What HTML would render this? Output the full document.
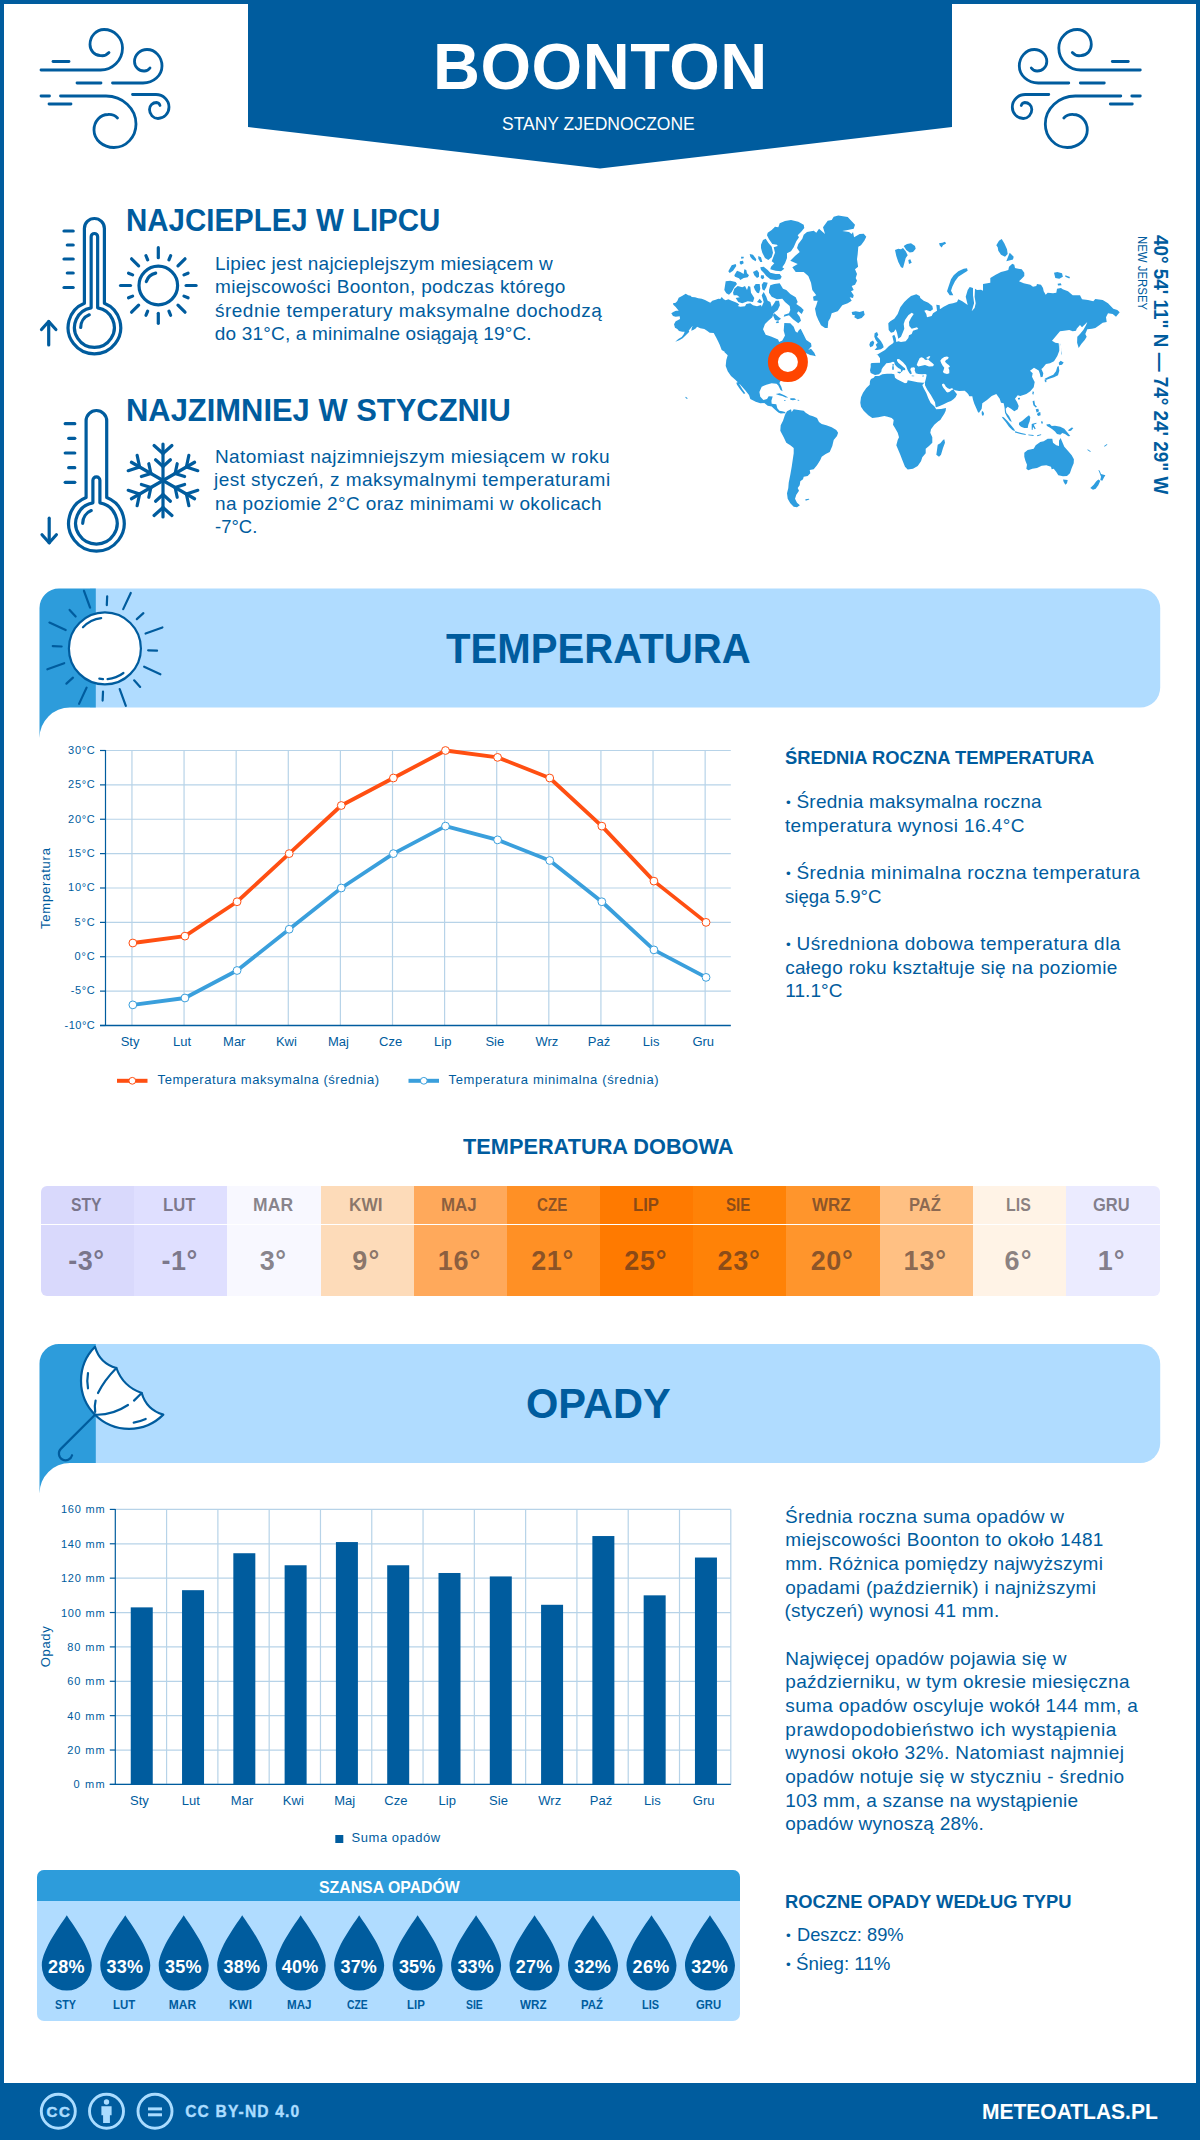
<!DOCTYPE html>
<html lang="pl"><head><meta charset="utf-8"><title>Boonton - pogoda i klimat</title>
<style>
html,body{margin:0;padding:0;background:#fff;}
body{width:1200px;height:2140px;position:relative;overflow:hidden;font-family:"Liberation Sans", sans-serif;color:#005c9e;}
.t{position:absolute;white-space:nowrap;line-height:1;margin:0;padding:0;font-family:"Liberation Sans", sans-serif;}
.abs{position:absolute;}
svg{position:absolute;left:0;top:0;overflow:visible;}
svg text{font-family:"Liberation Sans", sans-serif;}
</style></head><body>

<div class="abs" style="left:0;top:0;width:1200px;height:4px;background:#005c9e"></div>
<div class="abs" style="left:0;top:0;width:4px;height:2140px;background:#005c9e"></div>
<div class="abs" style="left:1196px;top:0;width:4px;height:2140px;background:#005c9e"></div>
<div class="abs" style="left:0;top:2083px;width:1200px;height:57px;background:#005c9e"></div>
<svg width="1200" height="200" viewBox="0 0 1200 200"><polygon points="248,0 952,0 952,127 600,168.5 248,127" fill="#005c9e"/></svg>
<div class="t" style="left:433.05px;top:33.98px;font-size:65px;font-weight:bold;letter-spacing:0.533px;color:#fff;">BOONTON</div>
<div class="t" style="left:501.81px;top:114.42px;font-size:19px;font-weight:normal;color:#fff;transform-origin:0 0;transform:scaleX(0.9206);">STANY ZJEDNOCZONE</div>
<svg width="1200" height="200" viewBox="0 0 1200 200"><g fill="none" stroke="#005c9e" stroke-width="2.8" stroke-linecap="round" stroke-linejoin="round">
<path d="M41,70 H100 A22,22 0 0 0 122.5,48 A18.5,18.5 0 0 0 104,29.5 A14,15 0 0 0 90,44.5 A10,11 0 0 0 100,55.5 A9.5,9.5 0 0 0 109,52.5"/>
<path d="M53,61.5 H69"/>
<path d="M77,83 H101"/>
<path d="M112.5,83 H143 A19,17 0 0 0 162,66 A15,16.5 0 0 0 147,49.5 A12.5,12 0 0 0 134.5,61.5 A9.5,9.5 0 0 0 144,71 A7,7 0 0 0 150,68"/>
<path d="M41,96 H49.5"/>
<path d="M60.5,96 H106 A30,28 0 0 1 136,124 A22,23.5 0 0 1 114,147.5 A20,17.5 0 0 1 94,130 A14,15.5 0 0 1 108,114.5 A11,9 0 0 1 117.5,118"/>
<path d="M49,104 H71"/>
<path d="M132.5,94.5 H156 A13,12.5 0 0 1 169,107 A11,11.5 0 0 1 158,118.5 A8.5,9 0 0 1 149.5,109.5 A7,7 0 0 1 156.5,102.5 A4,4 0 0 1 160,105.5"/>
</g><g transform="translate(1181.3,0) scale(-1,1)"><g fill="none" stroke="#005c9e" stroke-width="2.8" stroke-linecap="round" stroke-linejoin="round">
<path d="M41,70 H100 A22,22 0 0 0 122.5,48 A18.5,18.5 0 0 0 104,29.5 A14,15 0 0 0 90,44.5 A10,11 0 0 0 100,55.5 A9.5,9.5 0 0 0 109,52.5"/>
<path d="M53,61.5 H69"/>
<path d="M77,83 H101"/>
<path d="M112.5,83 H143 A19,17 0 0 0 162,66 A15,16.5 0 0 0 147,49.5 A12.5,12 0 0 0 134.5,61.5 A9.5,9.5 0 0 0 144,71 A7,7 0 0 0 150,68"/>
<path d="M41,96 H49.5"/>
<path d="M60.5,96 H106 A30,28 0 0 1 136,124 A22,23.5 0 0 1 114,147.5 A20,17.5 0 0 1 94,130 A14,15.5 0 0 1 108,114.5 A11,9 0 0 1 117.5,118"/>
<path d="M49,104 H71"/>
<path d="M132.5,94.5 H156 A13,12.5 0 0 1 169,107 A11,11.5 0 0 1 158,118.5 A8.5,9 0 0 1 149.5,109.5 A7,7 0 0 1 156.5,102.5 A4,4 0 0 1 160,105.5"/>
</g></g></svg>
<svg width="1200" height="600" viewBox="0 0 1200 600"><g fill="none" stroke="#005c9e" stroke-width="3.2" stroke-linecap="round" stroke-linejoin="round"><path d="M84.40,303.18 V228.50 A10,10 0 0 1 104.40,228.50 V303.18 A26.3,26.3 0 1 1 84.40,303.18 Z"/><path d="M91.15,307.87 V236.75 A3.25,3.25 0 0 1 97.65,236.75 V307.87 A19.9,19.9 0 1 1 91.15,307.87 Z"/><path d="M64,231 H73.2"/><path d="M67.3,245 H73.2"/><path d="M64,259 H73.2"/><path d="M67.3,273 H73.2"/><path d="M64,287.5 H73.2"/><path d="M80.70,327.50 A13.7,13.7 0 0 1 89.27,314.80"/><path d="M48.7,321.5 V345"/><path d="M41.5,329.5 L48.7,321.5 L55.900000000000006,329.5"/><path d="M86.10,497.48 V420.80 A10.3,10.3 0 0 1 106.70,420.80 V497.48 A27.8,27.8 0 1 1 86.10,497.48 Z"/><path d="M92.90,502.85 V480.30 A3.5,3.5 0 0 1 99.90,480.30 V502.85 A20.75,20.75 0 1 1 92.90,502.85 Z"/><path d="M65.2,423.7 H74.8"/><path d="M68.7,438.3 H74.8"/><path d="M65.2,453 H74.8"/><path d="M68.7,467.7 H74.8"/><path d="M65.2,482.3 H74.8"/><path d="M82.70,523.30 A13.7,13.7 0 0 1 91.27,510.60"/><path d="M49.2,518.2 V542.7"/><path d="M42.0,534.7 L49.2,542.7 L56.400000000000006,534.7"/><circle cx="158.3" cy="285.5" r="19.3"/><path d="M186.10,285.50 L196.10,285.50"/><path d="M183.98,296.14 L188.05,297.82"/><path d="M177.96,305.16 L185.03,312.23"/><path d="M168.94,311.18 L170.62,315.25"/><path d="M158.30,313.30 L158.30,323.30"/><path d="M147.66,311.18 L145.98,315.25"/><path d="M138.64,305.16 L131.57,312.23"/><path d="M132.62,296.14 L128.55,297.82"/><path d="M130.50,285.50 L120.50,285.50"/><path d="M132.62,274.86 L128.55,273.18"/><path d="M138.64,265.84 L131.57,258.77"/><path d="M147.66,259.82 L145.98,255.75"/><path d="M158.30,257.70 L158.30,247.70"/><path d="M168.94,259.82 L170.62,255.75"/><path d="M177.96,265.84 L185.03,258.77"/><path d="M183.98,274.86 L188.05,273.18"/><path d="M146.32,281.61 A12.6,12.6 0 0 1 155.68,273.18"/><path d="M163.00,480.50 L163.00,444.00"/><path d="M163.00,453.50 L154.08,445.47"/><path d="M163.00,453.50 L171.92,445.47"/><path d="M163.00,466.50 L155.57,459.81"/><path d="M163.00,466.50 L170.43,459.81"/><path d="M163.00,480.50 L131.39,462.25"/><path d="M139.62,467.00 L128.20,470.71"/><path d="M139.62,467.00 L137.12,455.26"/><path d="M150.88,473.50 L141.37,476.59"/><path d="M150.88,473.50 L148.80,463.72"/><path d="M163.00,480.50 L131.39,498.75"/><path d="M139.62,494.00 L137.12,505.74"/><path d="M139.62,494.00 L128.20,490.29"/><path d="M150.88,487.50 L148.80,497.28"/><path d="M150.88,487.50 L141.37,484.41"/><path d="M163.00,480.50 L163.00,517.00"/><path d="M163.00,507.50 L171.92,515.53"/><path d="M163.00,507.50 L154.08,515.53"/><path d="M163.00,494.50 L170.43,501.19"/><path d="M163.00,494.50 L155.57,501.19"/><path d="M163.00,480.50 L194.61,498.75"/><path d="M186.38,494.00 L197.80,490.29"/><path d="M186.38,494.00 L188.88,505.74"/><path d="M175.12,487.50 L184.63,484.41"/><path d="M175.12,487.50 L177.20,497.28"/><path d="M163.00,480.50 L194.61,462.25"/><path d="M186.38,467.00 L188.88,455.26"/><path d="M186.38,467.00 L197.80,470.71"/><path d="M175.12,473.50 L177.20,463.72"/><path d="M175.12,473.50 L184.63,476.59"/></g></svg>
<div class="t" style="left:125.63px;top:205.14px;font-size:31.5px;font-weight:bold;color:#005c9e;transform-origin:0 0;transform:scaleX(0.9352);">NAJCIEPLEJ W LIPCU</div>
<div class="t" style="left:214.90px;top:253.52px;font-size:19px;font-weight:normal;letter-spacing:0.256px;color:#005c9e;">Lipiec jest najcieplejszym miesiącem w</div>
<div class="t" style="left:214.96px;top:277.17px;font-size:19px;font-weight:normal;letter-spacing:0.348px;color:#005c9e;">miejscowości Boonton, podczas którego</div>
<div class="t" style="left:215.05px;top:300.82px;font-size:19px;font-weight:normal;letter-spacing:0.477px;color:#005c9e;">średnie temperatury maksymalne dochodzą</div>
<div class="t" style="left:214.86px;top:324.47px;font-size:19px;font-weight:normal;letter-spacing:0.171px;color:#005c9e;">do 31°C, a minimalne osiągają 19°C.</div>
<div class="t" style="left:125.53px;top:395.14px;font-size:31.5px;font-weight:bold;color:#005c9e;transform-origin:0 0;transform:scaleX(0.9815);">NAJZIMNIEJ W STYCZNIU</div>
<div class="t" style="left:214.90px;top:446.52px;font-size:19px;font-weight:normal;letter-spacing:0.443px;color:#005c9e;">Natomiast najzimniejszym miesiącem w roku</div>
<div class="t" style="left:214.04px;top:470.17px;font-size:19px;font-weight:normal;letter-spacing:0.441px;color:#005c9e;">jest styczeń, z maksymalnymi temperaturami</div>
<div class="t" style="left:214.96px;top:493.82px;font-size:19px;font-weight:normal;letter-spacing:0.367px;color:#005c9e;">na poziomie 2°C oraz minimami w okolicach</div>
<div class="t" style="left:214.55px;top:517.47px;font-size:19px;font-weight:normal;color:#005c9e;transform-origin:0 0;transform:scaleX(0.9717);">-7°C.</div>
<svg width="1200" height="600" viewBox="0 0 1200 600"><path d="M685.7,293.7L688.3,295.3L690.7,295.7L691.7,297.0L695.0,297.3L698.3,298.3L701.7,298.7L705.0,300.0L708.3,301.7L710.3,302.7L712.3,300.7L715.7,299.7L718.3,298.7L720.3,299.0L721.7,297.0L723.7,299.3L725.7,300.3L728.3,299.3L731.7,300.7L735.0,302.0L737.7,303.3L739.3,304.7L737.7,306.0L740.3,306.7L745.0,306.3L746.3,304.0L750.3,303.3L753.0,305.3L757.0,306.3L761.0,304.9L761.7,306.7L763.7,302.0L761.7,295.3L763.7,292.0L766.3,296.7L767.7,300.7L770.3,302.0L771.7,306.7L773.7,304.0L775.7,300.7L779.0,300.7L779.9,305.3L777.7,310.0L773.7,312.9L772.3,317.3L768.3,320.7L765.0,324.0L763.0,329.3L765.7,334.7L771.0,336.4L778.1,339.6L779.1,342.0L782.3,340.4L785.0,335.6L783.7,330.7L784.3,323.1L790.3,323.3L793.7,326.7L795.4,331.3L797.3,332.7L799.0,330.0L800.7,328.7L803.7,334.7L806.3,340.0L811.0,343.3L811.7,347.3L811.7,346.0L808.3,350.0L811.0,348.7L814.3,352.7L815.7,356.0L813.0,355.3L809.7,354.7L806.3,353.3L803.7,357.3L799.7,362.7L796.3,368.7L790.3,374.7L785.0,378.7L780.3,381.3L779.4,382.9L781.3,386.7L782.6,391.3L780.5,390.1L778.3,385.6L776.5,383.7L771.7,383.3L766.3,384.7L761.7,386.7L759.4,392.0L760.3,396.7L763.4,400.0L767.0,398.9L768.7,396.3L772.7,396.5L771.4,400.7L771.7,403.7L776.3,404.3L777.3,408.3L779.4,410.7L782.3,411.3L785.0,412.0L785.7,413.3L783.7,413.3L780.7,413.6L778.3,412.4L774.3,409.1L771.7,406.4L767.7,405.7L764.3,403.1L760.3,403.3L755.7,401.7L750.3,399.1L749.0,394.9L745.0,390.1L739.7,384.1L735.0,379.5L731.0,376.0L727.7,371.3L725.7,366.0L726.3,360.0L727.7,355.3L724.3,352.0L721.0,347.3L717.7,340.0L725.0,352.0L721.7,350.0L719.7,344.7L718.3,341.7L716.3,337.7L713.7,333.0L709.7,332.7L707.0,330.7L704.3,329.0L700.3,328.3L697.0,326.7L696.0,328.3L693.7,329.7L691.3,330.7L691.7,328.3L692.7,325.7L691.0,327.7L688.7,330.7L689.3,331.7L686.3,334.7L682.7,338.3L679.3,340.3L675.3,341.7L678.3,339.0L681.7,337.0L683.7,334.3L684.7,331.7L682.3,331.7L679.0,331.0L677.3,329.0L675.0,327.7L674.0,324.3L675.7,321.3L677.7,320.3L680.0,319.0L679.7,316.3L675.7,316.7L673.0,316.0L671.3,313.3L673.7,311.7L676.0,310.7L678.7,310.7L675.7,307.0L673.3,304.7L673.0,303.3L675.7,302.7L677.3,301.0L678.7,297.7L682.0,296.0ZM736.3,382.7L738.1,382.1L742.1,388.7L745.3,393.3L743.9,393.9L739.9,388.9L737.0,384.7ZM767.7,232.7L771.7,230.0L775.0,226.7L778.3,227.3L779.7,223.3L785.0,220.9L791.0,220.0L798.3,221.7L803.7,224.7L804.3,228.0L801.0,232.0L797.7,235.3L799.0,237.3L796.3,241.3L793.7,247.3L791.0,251.3L787.0,253.3L787.0,258.0L785.0,263.3L782.3,267.3L784.3,268.7L781.0,271.3L775.7,270.7L770.3,269.3L771.0,266.7L774.3,263.3L771.7,261.3L773.7,256.0L775.0,252.7L773.7,247.3L777.7,246.0L777.0,244.7L772.3,244.0L769.0,239.3L767.0,235.3ZM761.0,244.7L763.0,240.0L765.7,238.7L768.3,242.7L771.7,246.7L773.0,252.7L771.7,257.3L768.3,260.0L765.0,258.0L762.3,252.7L761.0,248.0ZM760.3,267.3L763.7,266.7L767.7,270.0L770.3,272.7L775.7,274.0L779.7,274.0L781.7,276.7L780.3,279.3L775.7,280.0L770.3,279.3L766.3,276.0L763.7,272.7L761.0,270.0ZM753.0,272.0L757.0,270.0L759.0,272.7L759.0,276.7L757.0,278.0L754.3,275.3ZM761.0,275.3L763.7,275.3L764.3,278.0L762.3,279.3L760.7,277.7ZM749.7,254.0L753.0,254.7L756.3,259.3L755.7,261.3L752.3,259.3L750.3,256.7ZM758.3,256.0L761.0,257.3L762.3,262.0L760.3,262.0L758.3,258.7ZM741.0,256.7L743.7,256.7L743.7,258.3L741.3,258.7ZM739.9,261.3L743.0,260.7L743.7,263.3L741.0,264.7L739.7,263.3ZM728.3,271.3L731.7,265.3L735.7,264.0L736.3,266.0L733.0,270.7L729.7,272.9ZM734.3,275.3L737.0,270.7L740.3,272.0L743.7,274.0L744.3,269.3L746.3,270.0L747.0,273.3L749.0,275.3L747.7,277.3L743.7,278.0L740.3,280.0L739.0,278.3L735.0,276.7ZM724.3,290.0L725.7,281.3L730.3,280.7L735.7,282.0L737.0,284.0L734.3,287.3L731.7,292.0L729.0,294.7L726.3,293.3ZM733.0,292.7L734.3,288.7L737.7,286.0L742.3,287.3L745.0,286.0L747.0,290.0L748.3,286.0L750.3,286.7L751.0,292.7L754.3,298.0L753.0,302.0L747.7,301.3L742.3,303.3L738.3,302.0L735.7,298.0L739.7,297.3L737.0,295.3L733.7,295.3ZM753.7,286.7L755.7,284.0L759.7,284.0L760.3,288.7L759.0,293.3L757.0,292.7L755.0,290.0ZM761.7,284.7L763.7,282.0L767.7,282.7L766.3,287.3L764.3,290.7L762.3,289.3ZM757.0,302.0L759.7,298.7L762.3,302.0L760.3,303.3ZM773.0,315.3L774.3,313.3L778.3,316.7L781.0,318.7L778.3,320.7L775.0,320.0ZM775.7,322.0L778.3,320.9L779.0,322.7L776.7,323.3ZM769.0,290.0L770.3,285.3L774.3,284.0L779.7,283.3L783.0,288.7L786.3,290.0L790.3,294.0L795.7,297.3L797.7,302.0L796.3,304.0L801.0,307.3L803.7,310.0L801.7,314.0L798.3,311.3L797.0,313.3L799.7,316.7L801.0,320.7L798.3,323.3L793.0,319.3L789.0,315.3L783.7,316.7L784.3,314.7L789.0,313.3L790.3,310.0L789.7,306.0L785.0,302.0L782.3,298.7L777.0,299.3L771.7,296.7L769.0,292.7ZM808.3,353.3L811.0,349.1L814.3,352.7L815.7,356.3L813.0,355.5L809.7,354.9ZM803.7,234.7L807.0,232.0L813.7,230.7L816.3,232.7L819.0,228.7L825.0,234.0L823.0,227.3L827.7,220.7L831.7,220.0L833.7,216.7L838.3,215.6L847.7,216.9L855.0,224.7L853.7,228.7L847.7,230.0L842.3,231.1L849.0,232.0L851.7,234.0L853.0,232.0L854.1,237.3L859.7,234.0L863.7,233.7L866.3,236.7L864.3,240.7L861.0,245.3L858.3,246.7L857.7,254.0L857.0,259.3L858.1,266.7L855.0,269.3L857.0,274.0L855.7,278.0L857.0,280.7L855.0,284.7L851.7,286.0L853.7,290.0L851.0,291.3L853.7,295.3L853.0,298.0L849.7,297.3L851.7,300.7L847.7,303.3L842.3,305.3L839.7,308.7L837.7,311.3L831.7,313.3L830.3,318.0L828.3,321.3L827.7,328.0L825.0,328.0L821.0,325.3L818.3,320.0L816.3,315.3L815.0,308.7L816.3,305.3L817.7,300.7L813.7,300.7L813.0,296.7L816.3,295.3L812.3,290.0L811.0,282.7L808.3,276.0L803.7,272.0L795.7,272.0L792.3,267.3L797.7,264.0L790.3,260.7L795.0,256.0L799.7,252.0L797.0,248.0L798.3,244.0L802.3,238.7ZM851.7,312.0L855.7,311.3L859.7,312.0L863.7,310.7L864.7,314.7L861.7,318.0L857.7,319.3L854.3,317.3L855.0,315.3L852.3,314.7ZM895.0,250.0L898.3,248.7L901.0,249.3L903.0,248.0L905.7,251.3L907.7,255.3L905.7,258.0L904.3,263.3L903.0,268.0L901.0,267.3L898.3,262.0L896.3,256.0ZM903.7,246.0L907.0,244.0L911.0,243.3L915.0,246.0L915.7,248.7L913.0,252.0L909.7,252.4L906.3,250.0ZM908.3,260.0L910.3,259.3L911.7,262.7L909.0,264.0ZM874.6,333.3L877.0,332.0L878.3,334.7L877.0,336.7L879.0,338.7L881.0,341.3L883.0,344.7L883.7,347.3L881.0,349.3L877.0,350.0L874.6,350.0L877.0,347.3L875.7,344.7L877.7,342.7L875.7,340.0L874.3,336.7ZM870.3,342.0L873.0,340.4L874.3,342.7L873.0,346.0L870.3,347.3L869.3,344.7ZM947.0,291.3L948.3,287.3L951.0,279.3L953.7,275.3L958.3,271.3L963.7,268.7L967.0,268.3L967.7,270.7L963.7,273.3L958.3,276.7L955.0,281.3L952.3,286.7L951.0,290.7L953.3,295.3L949.7,295.3ZM996.3,245.3L999.0,240.7L1001.7,239.1L1004.3,243.3L1007.0,249.3L1007.7,254.0L1005.0,256.7L1001.0,254.7L998.3,250.7L997.7,247.3ZM1006.3,261.3L1009.7,252.7L1013.7,256.7L1013.0,259.6ZM939.0,243.3L942.3,242.7L945.0,241.7L946.1,243.6L943.0,245.3L941.7,247.6L939.9,245.7ZM1054.0,272.7L1057.3,272.0L1062.0,273.3L1062.9,276.7L1059.3,278.7L1055.3,278.0ZM1065.3,275.3L1070.0,277.1L1069.3,278.4L1065.3,276.7ZM1057.6,283.7L1060.7,283.3L1061.6,285.3L1058.0,285.6ZM907.7,298.7L911.0,296.0L916.3,294.3L919.7,296.0L920.3,298.0L923.7,300.7L928.3,302.7L932.3,306.0L933.0,309.3L930.3,311.3L926.3,310.0L924.3,310.7L926.3,314.0L927.0,317.3L931.7,316.0L933.0,313.3L937.0,310.7L936.3,304.7L939.7,305.3L939.9,309.3L943.7,306.7L949.0,304.0L953.0,303.3L957.0,302.0L958.3,299.3L962.3,301.3L967.7,304.9L965.7,296.7L967.7,290.0L969.7,287.1L973.0,288.0L973.0,295.3L974.1,303.3L971.7,311.3L974.6,308.0L975.7,303.3L974.6,296.7L975.0,288.7L977.0,290.0L981.0,289.7L983.0,290.7L983.0,284.0L990.3,282.7L990.3,278.0L995.7,274.7L1001.0,272.0L1005.0,271.1L1008.3,270.0L1009.0,266.7L1012.3,263.7L1014.3,264.7L1015.0,268.0L1018.3,268.7L1021.7,269.3L1024.3,272.7L1024.3,276.0L1021.7,278.7L1019.0,281.3L1023.7,283.3L1030.3,284.7L1033.0,286.7L1036.3,286.0L1037.0,284.0L1041.0,284.7L1043.0,288.0L1043.7,291.3L1045.7,294.7L1047.7,292.7L1053.0,293.3L1056.3,292.7L1057.0,288.7L1061.0,288.0L1062.7,289.3L1068.0,291.3L1072.7,295.3L1080.0,295.3L1082.0,299.3L1088.0,300.0L1093.3,301.3L1095.3,298.9L1102.7,300.0L1108.0,303.3L1113.3,308.7L1117.3,310.0L1119.7,312.3L1116.0,316.7L1112.7,314.0L1108.0,313.3L1106.0,317.3L1106.7,322.0L1102.7,322.7L1099.3,325.3L1095.3,328.0L1092.0,328.7L1087.3,329.3L1085.3,334.0L1086.7,336.7L1084.7,340.0L1081.3,344.0L1078.7,348.0L1077.1,342.7L1077.3,336.7L1080.0,334.0L1083.3,330.0L1086.0,325.3L1087.3,322.0L1085.3,324.0L1082.0,327.3L1080.0,325.1L1076.7,328.7L1076.0,330.7L1072.7,331.3L1069.3,330.0L1064.0,330.7L1060.0,331.3L1056.0,336.0L1052.0,340.7L1055.3,342.7L1058.7,343.3L1059.3,350.7L1057.3,356.0L1054.0,361.3L1050.0,363.3L1046.0,364.0L1042.7,368.0L1040.0,370.0L1041.3,368.7L1043.3,373.3L1042.7,376.7L1040.7,377.3L1039.7,373.3L1038.7,370.4L1034.0,367.7L1030.0,370.7L1032.7,373.3L1032.0,376.7L1034.0,380.7L1034.7,382.0L1033.7,387.3L1030.3,391.3L1026.3,394.0L1020.3,396.0L1017.7,395.3L1015.0,398.7L1017.0,402.0L1018.7,406.0L1017.7,409.3L1014.3,411.3L1011.0,408.7L1007.7,406.7L1005.7,408.7L1006.3,412.7L1009.0,416.0L1011.0,420.0L1011.7,422.0L1009.7,420.7L1007.0,416.7L1005.0,412.7L1004.6,408.0L1003.7,403.3L1001.0,402.7L999.7,398.7L996.3,394.0L991.7,396.0L987.0,400.0L982.3,403.3L981.7,408.7L979.0,412.7L978.0,412.3L976.3,408.3L974.3,403.7L973.0,399.7L972.3,396.3L969.3,396.3L968.3,394.3L967.0,392.7L964.7,390.7L959.0,391.0L955.0,390.3L953.3,389.3L955.0,391.7L957.0,394.3L955.7,397.0L953.7,399.0L951.0,401.0L947.7,402.3L943.7,404.3L939.7,406.0L936.3,407.3L935.7,407.0L935.0,402.3L932.7,398.3L930.7,394.7L927.3,389.7L925.0,385.3L925.0,382.0L926.0,378.3L926.7,374.7L925.3,374.0L922.3,374.3L918.3,374.0L915.7,373.3L915.3,371.7L914.7,370.7L915.0,368.0L913.7,367.3L911.0,367.7L910.3,369.7L911.3,371.7L911.7,373.7L910.7,374.3L909.3,373.0L907.7,370.3L906.0,365.7L903.0,362.3L899.0,359.0L897.0,359.3L897.0,360.7L898.3,362.7L901.0,365.0L903.3,367.0L905.0,368.3L905.3,370.0L904.0,370.3L903.0,370.0L902.3,371.3L901.5,372.3L901.0,371.3L900.7,369.3L898.3,368.0L896.3,366.3L894.7,364.3L894.3,362.3L893.0,361.7L890.3,362.7L886.3,363.3L885.0,365.0L883.0,367.3L881.7,369.3L881.3,371.7L879.0,374.3L875.0,375.0L872.3,373.8L870.7,373.0L870.0,370.3L870.7,367.0L870.7,363.7L871.7,362.9L880.0,362.7L880.0,358.3L878.3,355.7L876.3,353.7L877.0,354.7L880.3,352.7L885.0,350.0L889.0,346.0L893.0,343.3L893.0,343.3L893.7,342.0L892.3,336.0L894.3,334.7L895.7,338.0L896.3,342.0L898.3,341.3L901.0,342.0L905.7,341.3L908.3,338.0L909.0,335.3L911.7,334.0L913.0,330.7L918.3,329.1L917.0,327.3L911.7,328.7L909.3,326.0L909.0,322.0L911.0,318.0L913.7,314.0L911.7,312.7L908.3,315.3L905.0,320.0L903.7,324.0L904.3,328.7L903.0,332.0L901.0,336.7L898.3,338.7L897.0,332.7L895.7,329.3L893.7,332.0L891.0,332.7L888.7,330.0L888.3,323.3L890.3,321.3L894.3,318.7L897.7,314.0L900.3,307.3L904.3,302.0L907.7,298.7ZM897.3,371.8L900.7,371.7L901.1,372.5L899.7,373.5L897.7,372.7ZM892.2,366.2L893.8,366.2L893.8,369.8L892.2,369.8ZM892.5,364.0L893.7,364.0L893.7,365.8L892.5,365.8ZM911.7,375.5L914.3,375.7L914.2,376.3L911.7,376.2ZM922.2,375.8L924.0,375.5L923.7,376.6L922.3,376.6ZM981.7,411.7L982.7,411.0L984.0,413.3L983.7,415.3L982.3,415.7L981.7,414.0ZM1059.3,343.3L1060.7,344.0L1061.3,350.7L1062.0,353.3L1060.7,356.0L1060.0,350.7ZM1058.7,362.7L1060.7,360.7L1063.7,362.4L1062.0,364.7L1059.3,365.3ZM1058.7,366.0L1059.3,370.7L1058.0,375.3L1054.0,377.3L1049.3,378.7L1046.0,380.0L1044.7,378.7L1048.7,376.7L1053.3,374.7L1056.0,371.3L1057.3,366.7ZM1044.7,379.3L1046.7,380.7L1046.0,382.4L1044.7,381.3ZM1032.7,391.3L1034.0,392.0L1033.3,394.7L1032.3,394.0ZM1001.7,416.7L1003.7,417.3L1007.7,421.3L1011.7,426.0L1014.3,429.3L1015.0,431.3L1012.3,430.0L1009.0,426.7L1005.7,422.0L1003.0,418.7ZM1015.0,431.3L1020.3,432.7L1025.7,434.0L1025.7,434.9L1020.3,434.0L1015.0,432.4ZM1028.3,434.4L1033.7,435.1L1033.4,436.0L1028.3,435.3ZM1037.0,435.3L1041.0,434.3L1041.3,435.1L1037.4,436.3ZM1019.0,422.7L1022.3,420.7L1026.3,417.3L1029.0,415.3L1030.3,417.3L1029.7,421.3L1028.3,424.7L1027.7,428.0L1024.3,428.0L1021.0,426.7L1019.0,424.7ZM1031.7,424.0L1036.3,422.7L1036.6,423.6L1033.7,424.7L1035.7,428.7L1034.7,429.3L1033.0,426.7L1032.6,430.0L1031.7,429.7ZM1032.6,401.3L1034.3,400.4L1035.0,404.7L1037.0,406.7L1035.7,407.6L1033.4,405.3ZM1035.7,409.3L1038.3,408.7L1039.0,411.3L1036.6,412.4ZM1037.7,412.7L1040.3,412.0L1040.6,415.3L1038.3,416.0L1037.0,414.7ZM1017.9,398.0L1020.1,397.7L1019.7,399.6L1018.1,399.6ZM1041.0,421.3L1043.0,421.7L1042.3,424.0L1041.3,423.3ZM1046.3,424.4L1049.7,424.0L1051.7,426.0L1055.0,425.7L1060.3,426.7L1064.3,428.7L1067.0,432.0L1070.3,436.0L1068.3,436.3L1065.0,434.0L1062.3,432.9L1060.3,434.7L1057.0,434.0L1055.0,431.6L1052.3,429.3L1049.7,427.6L1047.0,426.0ZM1068.3,430.0L1071.7,427.6L1073.4,428.0L1071.0,430.7L1068.6,431.1ZM1087.7,449.3L1090.7,451.3L1090.3,452.0L1087.4,450.0ZM1104.1,446.0L1107.0,444.0L1107.3,444.7L1104.6,446.8ZM1024.3,452.7L1027.7,450.0L1033.7,448.7L1035.7,445.3L1040.3,442.0L1043.7,441.3L1047.7,438.7L1052.3,438.7L1053.0,442.7L1056.3,445.3L1059.0,446.0L1059.0,440.7L1060.6,438.0L1062.3,442.0L1064.3,446.7L1068.3,451.3L1071.7,455.3L1073.9,459.3L1073.7,463.3L1071.7,468.0L1069.9,473.3L1067.0,476.0L1063.0,476.3L1058.3,475.3L1056.3,472.0L1053.7,468.7L1051.7,469.3L1051.0,466.7L1046.3,465.3L1041.7,465.7L1037.0,468.0L1032.3,468.7L1028.3,470.3L1026.3,468.7L1027.0,464.7L1025.4,460.7L1024.3,456.7ZM1063.0,479.6L1067.7,480.0L1067.0,483.3L1065.4,484.7L1063.7,482.0ZM1098.3,469.7L1099.7,470.7L1101.0,474.0L1105.4,475.3L1104.1,477.3L1102.3,480.7L1100.3,480.0L1101.0,476.7L1099.7,473.3ZM1098.3,479.6L1100.3,480.7L1098.3,485.3L1095.7,488.7L1093.0,489.7L1090.3,488.0L1093.7,484.7L1096.3,481.3ZM870.0,381.0L871.0,379.0L873.7,377.7L875.0,376.0L879.0,376.0L882.3,374.3L887.0,373.7L891.7,373.7L894.3,374.3L895.0,377.7L897.0,379.3L901.0,381.3L905.0,383.3L907.0,382.7L907.7,380.3L911.7,381.0L917.7,382.3L923.0,382.7L924.7,382.5L922.3,385.0L923.7,388.3L926.3,393.0L928.3,398.3L930.7,403.0L934.3,406.3L936.2,409.3L941.0,409.0L946.0,408.0L945.7,410.7L944.3,413.7L941.7,417.7L940.3,420.0L938.3,421.3L934.3,424.7L931.0,429.3L930.3,432.7L932.3,437.3L932.3,442.7L929.0,446.0L925.7,448.7L925.7,453.3L922.3,457.3L921.0,461.3L917.7,466.0L913.0,468.7L907.7,469.6L905.0,466.7L902.3,460.0L900.3,454.7L898.3,450.0L896.3,445.3L897.7,440.0L899.0,437.3L897.7,432.7L895.0,428.0L893.0,424.7L893.7,420.0L891.7,418.0L887.7,416.7L884.3,416.0L878.3,417.3L872.3,418.0L868.3,415.3L863.7,410.7L861.0,406.7L860.3,402.7L861.0,397.3L863.0,392.7L866.3,388.0L869.7,384.7ZM944.3,439.3L945.0,442.7L943.0,448.0L941.0,454.7L939.0,456.7L936.3,454.7L937.0,450.0L937.7,444.7L940.3,443.3L943.0,440.0ZM785.0,414.7L787.0,411.3L791.0,409.3L791.7,412.0L793.7,409.3L798.3,410.0L803.7,410.7L805.7,412.7L809.7,415.3L813.0,416.3L817.0,418.0L819.0,422.0L821.7,424.0L826.3,425.3L831.7,427.3L836.3,430.0L838.1,432.7L837.0,436.0L833.7,440.0L832.3,446.0L829.7,452.0L825.7,454.0L821.7,456.7L820.3,460.0L817.0,465.3L813.7,469.3L809.7,470.0L810.3,473.3L807.7,476.0L803.7,476.7L803.0,479.3L800.3,481.3L799.7,485.3L797.7,488.0L799.0,490.7L796.3,494.7L795.0,498.7L797.0,502.7L799.9,505.3L797.0,507.3L793.7,506.7L790.3,503.3L787.7,498.7L787.0,493.3L788.3,488.0L788.7,482.7L790.3,474.7L791.7,466.7L792.7,460.0L793.7,453.3L793.7,448.0L790.3,445.3L786.3,442.7L783.7,437.3L780.3,430.7L780.7,425.3L783.0,420.7ZM805.3,499.3L809.0,498.7L809.3,499.6L805.7,500.7ZM775.7,394.0L779.7,393.3L784.3,395.3L788.3,397.6L785.7,397.6L782.3,396.0L778.3,394.9ZM790.3,398.3L794.3,398.3L796.3,399.6L793.0,400.3L790.3,399.7ZM797.7,399.7L799.4,400.0L799.0,400.8L797.5,400.5ZM784.1,400.0L785.7,400.0L785.4,400.8L783.9,400.7ZM685.0,396.7L687.0,397.6L687.7,398.9L686.1,398.4Z" fill="#2e9ddf"/><path d="M916.7,365.0L917.7,362.3L919.7,358.0L921.7,357.3L923.7,358.3L925.0,359.7L927.0,360.0L928.0,359.1L926.0,358.0L928.3,356.5L930.3,356.0L929.5,358.0L928.0,359.3L929.7,361.0L932.3,363.0L934.0,364.7L933.0,366.3L929.0,366.5L925.0,365.0L921.7,365.7L918.3,366.5ZM940.3,360.7L941.7,358.7L944.3,357.0L947.0,356.5L948.7,357.3L948.0,359.0L946.0,360.0L945.0,361.7L947.0,363.7L949.0,365.3L950.0,366.7L948.3,367.7L949.3,370.0L949.3,373.3L947.0,374.0L944.3,373.3L942.9,372.0L943.7,369.7L944.3,367.7L942.7,365.7L941.3,363.3ZM942.0,384.3L943.3,383.5L944.7,384.5L945.7,386.5L947.7,388.2L949.7,388.9L951.5,388.2L952.5,388.3L953.1,389.5L951.5,390.3L949.7,391.7L947.7,392.5L946.3,391.7L945.0,389.8L943.3,387.7L942.2,385.8ZM1059.0,342.7L1060.3,342.0L1061.7,350.0L1061.3,356.7L1059.9,356.0L1059.9,349.3Z" fill="#fff"/><circle cx="787.9" cy="362" r="15" fill="#fff" stroke="#ff4500" stroke-width="10"/></svg>
<div class="t" style="left:1171.33px;top:234.81px;transform-origin:0 0;transform:rotate(90deg) scaleX(0.9446);font-size:20px;font-weight:bold;color:#005c9e">40° 54' 11&quot; N — 74° 24' 29&quot; W</div>
<div class="t" style="left:1148.60px;top:235.86px;transform-origin:0 0;transform:rotate(90deg) scaleX(0.8778);font-size:13px;font-weight:normal;color:#005c9e">NEW JERSEY</div>
<svg width="1200" height="747" viewBox="0 0 1200 747"><path d="M90,588.5 H1140.2 A20,20 0 0 1 1160.2,608.5 V687.5 A20,20 0 0 1 1140.2,707.5 H90 Z" fill="#b0dcff"/><path d="M39.5,738.0 V608.0 A19.5,19.5 0 0 1 59,588.5 H95.8 V707.5 H70 A30.5,30.5 0 0 0 39.5,738.0 Z" fill="#2d9cdb"/><g fill="none" stroke="#005c9e" stroke-width="2.2" stroke-linecap="round"><path d="M90.09,607.71 L83.97,590.89"/><path d="M106.79,605.14 L107.18,596.25"/><path d="M123.20,609.16 L130.76,592.93"/><path d="M136.82,619.15 L143.39,613.13"/><path d="M145.59,633.59 L162.41,627.47"/><path d="M148.16,650.29 L157.05,650.68"/><path d="M144.14,666.70 L160.37,674.26"/><path d="M134.15,680.32 L140.17,686.89"/><path d="M119.71,689.09 L125.83,705.91"/><path d="M103.01,691.66 L102.62,700.55"/><path d="M86.60,687.64 L79.04,703.87"/><path d="M72.98,677.65 L66.41,683.67"/><path d="M64.21,663.21 L47.39,669.33"/><path d="M61.64,646.51 L52.75,646.12"/><path d="M65.66,630.10 L49.43,622.54"/><path d="M75.65,616.48 L69.63,609.91"/><circle cx="104.9" cy="648.4" r="36" fill="#fff"/><path d="M82.96,627.21 A30.5,30.5 0 0 1 101.18,618.13"/><path d="M123.44,673.00 A30.8,30.8 0 0 1 107.58,679.08"/><path d="M103.02,679.14 A30.8,30.8 0 0 1 99.29,678.68"/></g></svg>
<div class="t" style="left:446.25px;top:627.85px;font-size:42px;font-weight:bold;color:#005c9e;transform-origin:0 0;transform:scaleX(0.9559);">TEMPERATURA</div>
<svg width="1200" height="1503" viewBox="0 0 1200 1503"><path d="M90,1344 H1140.2 A20,20 0 0 1 1160.2,1364 V1443 A20,20 0 0 1 1140.2,1463 H90 Z" fill="#b0dcff"/><path d="M39.5,1493.5 V1363.5 A19.5,19.5 0 0 1 59,1344 H95.8 V1463 H70 A30.5,30.5 0 0 0 39.5,1493.5 Z" fill="#2d9cdb"/><g fill="none" stroke="#005c9e" stroke-width="2.2" stroke-linecap="round" stroke-linejoin="round"><path d="M95,1346.7 Q99.7,1363.3 116.4,1368 Q123,1386.5 141.7,1393 Q146.5,1409.8 163.3,1414.6 A48.3,48.3 0 0 1 95,1414.7 A48.3,48.3 0 0 1 95,1346.7 Z" fill="#fff"/><path d="M95,1414.7 L60.8,1448.9 A6.7,6.7 0 1 0 72.1,1455.2"/><path d="M95.2,1412 Q94.2,1406 95.6,1400.5"/><path d="M98,1393 Q104.5,1380 116.4,1368"/><path d="M95,1414.7 Q112,1415.5 128,1405"/><path d="M134,1400.6 L141.7,1393"/><path d="M88,1373 Q86.6,1381 88,1388.3"/><path d="M133.7,1422.6 Q140,1421.6 145.7,1419"/></g></svg>
<div class="t" style="left:526.49px;top:1383.35px;font-size:42px;font-weight:bold;color:#005c9e;transform-origin:0 0;transform:scaleX(0.9900);">OPADY</div>
<svg width="1200" height="1120" viewBox="0 0 1200 1120"><path d="M105.5,750.50 H730.8" stroke="#b7d3e8" stroke-width="1.2"/><path d="M105.5,784.88 H730.8" stroke="#b7d3e8" stroke-width="1.2"/><path d="M105.5,819.25 H730.8" stroke="#b7d3e8" stroke-width="1.2"/><path d="M105.5,853.62 H730.8" stroke="#b7d3e8" stroke-width="1.2"/><path d="M105.5,888.00 H730.8" stroke="#b7d3e8" stroke-width="1.2"/><path d="M105.5,922.38 H730.8" stroke="#b7d3e8" stroke-width="1.2"/><path d="M105.5,956.75 H730.8" stroke="#b7d3e8" stroke-width="1.2"/><path d="M105.5,991.12 H730.8" stroke="#b7d3e8" stroke-width="1.2"/><path d="M105.5,1025.50 H730.8" stroke="#b7d3e8" stroke-width="1.2"/><path d="M131.95,750.5 V1025.5" stroke="#b7d3e8" stroke-width="1.2"/><path d="M184.06,750.5 V1025.5" stroke="#b7d3e8" stroke-width="1.2"/><path d="M236.17,750.5 V1025.5" stroke="#b7d3e8" stroke-width="1.2"/><path d="M288.28,750.5 V1025.5" stroke="#b7d3e8" stroke-width="1.2"/><path d="M340.39,750.5 V1025.5" stroke="#b7d3e8" stroke-width="1.2"/><path d="M392.50,750.5 V1025.5" stroke="#b7d3e8" stroke-width="1.2"/><path d="M444.60,750.5 V1025.5" stroke="#b7d3e8" stroke-width="1.2"/><path d="M496.71,750.5 V1025.5" stroke="#b7d3e8" stroke-width="1.2"/><path d="M548.82,750.5 V1025.5" stroke="#b7d3e8" stroke-width="1.2"/><path d="M600.93,750.5 V1025.5" stroke="#b7d3e8" stroke-width="1.2"/><path d="M653.04,750.5 V1025.5" stroke="#b7d3e8" stroke-width="1.2"/><path d="M705.15,750.5 V1025.5" stroke="#b7d3e8" stroke-width="1.2"/><path d="M100.0,750.50 H105.5" stroke="#005c9e" stroke-width="1.2"/><text x="94.80" y="753.80" font-size="11" text-anchor="end" fill="#005c9e" font-weight="normal" textLength="26.7" lengthAdjust="spacing">30°C</text><path d="M100.0,784.88 H105.5" stroke="#005c9e" stroke-width="1.2"/><text x="94.80" y="788.17" font-size="11" text-anchor="end" fill="#005c9e" font-weight="normal" textLength="26.7" lengthAdjust="spacing">25°C</text><path d="M100.0,819.25 H105.5" stroke="#005c9e" stroke-width="1.2"/><text x="94.80" y="822.55" font-size="11" text-anchor="end" fill="#005c9e" font-weight="normal" textLength="26.7" lengthAdjust="spacing">20°C</text><path d="M100.0,853.62 H105.5" stroke="#005c9e" stroke-width="1.2"/><text x="94.80" y="856.92" font-size="11" text-anchor="end" fill="#005c9e" font-weight="normal" textLength="26.7" lengthAdjust="spacing">15°C</text><path d="M100.0,888.00 H105.5" stroke="#005c9e" stroke-width="1.2"/><text x="94.80" y="891.30" font-size="11" text-anchor="end" fill="#005c9e" font-weight="normal" textLength="26.7" lengthAdjust="spacing">10°C</text><path d="M100.0,922.38 H105.5" stroke="#005c9e" stroke-width="1.2"/><text x="94.80" y="925.67" font-size="11" text-anchor="end" fill="#005c9e" font-weight="normal" textLength="20.4" lengthAdjust="spacing">5°C</text><path d="M100.0,956.75 H105.5" stroke="#005c9e" stroke-width="1.2"/><text x="94.80" y="960.05" font-size="11" text-anchor="end" fill="#005c9e" font-weight="normal" textLength="20.4" lengthAdjust="spacing">0°C</text><path d="M100.0,991.12 H105.5" stroke="#005c9e" stroke-width="1.2"/><text x="94.80" y="994.42" font-size="11" text-anchor="end" fill="#005c9e" font-weight="normal" textLength="24.0" lengthAdjust="spacing">-5°C</text><path d="M100.0,1025.50 H105.5" stroke="#005c9e" stroke-width="1.2"/><text x="94.80" y="1028.80" font-size="11" text-anchor="end" fill="#005c9e" font-weight="normal" textLength="30.3" lengthAdjust="spacing">-10°C</text><path d="M105.5,750.0 V1025.5" stroke="#005c9e" stroke-width="1.2" fill="none"/><path d="M100.0,1025.5 H730.8" stroke="#005c9e" stroke-width="1.4" fill="none"/><text x="130.05" y="1046.20" font-size="13" text-anchor="middle" fill="#005c9e" font-weight="normal">Sty</text><text x="182.16" y="1046.20" font-size="13" text-anchor="middle" fill="#005c9e" font-weight="normal">Lut</text><text x="234.27" y="1046.20" font-size="13" text-anchor="middle" fill="#005c9e" font-weight="normal">Mar</text><text x="286.38" y="1046.20" font-size="13" text-anchor="middle" fill="#005c9e" font-weight="normal">Kwi</text><text x="338.49" y="1046.20" font-size="13" text-anchor="middle" fill="#005c9e" font-weight="normal">Maj</text><text x="390.60" y="1046.20" font-size="13" text-anchor="middle" fill="#005c9e" font-weight="normal">Cze</text><text x="442.70" y="1046.20" font-size="13" text-anchor="middle" fill="#005c9e" font-weight="normal">Lip</text><text x="494.81" y="1046.20" font-size="13" text-anchor="middle" fill="#005c9e" font-weight="normal">Sie</text><text x="546.92" y="1046.20" font-size="13" text-anchor="middle" fill="#005c9e" font-weight="normal">Wrz</text><text x="599.03" y="1046.20" font-size="13" text-anchor="middle" fill="#005c9e" font-weight="normal">Paź</text><text x="651.14" y="1046.20" font-size="13" text-anchor="middle" fill="#005c9e" font-weight="normal">Lis</text><text x="703.25" y="1046.20" font-size="13" text-anchor="middle" fill="#005c9e" font-weight="normal">Gru</text><text transform="translate(49.8,888.5) rotate(-90)" font-size="13" text-anchor="middle" fill="#005c9e" textLength="81" lengthAdjust="spacing">Temperatura</text><polyline points="132.85,943.00 184.96,936.12 237.07,901.75 289.18,853.62 341.29,805.50 393.40,778.00 445.50,750.50 497.61,757.38 549.72,778.00 601.83,826.12 653.94,881.12 706.05,922.38" fill="none" stroke="#ff4f12" stroke-width="3.8" stroke-linejoin="round" stroke-linecap="round"/><circle cx="132.85" cy="943.00" r="3.9" fill="#fff" stroke="#ff4f12" stroke-width="1"/><circle cx="184.96" cy="936.12" r="3.9" fill="#fff" stroke="#ff4f12" stroke-width="1"/><circle cx="237.07" cy="901.75" r="3.9" fill="#fff" stroke="#ff4f12" stroke-width="1"/><circle cx="289.18" cy="853.62" r="3.9" fill="#fff" stroke="#ff4f12" stroke-width="1"/><circle cx="341.29" cy="805.50" r="3.9" fill="#fff" stroke="#ff4f12" stroke-width="1"/><circle cx="393.40" cy="778.00" r="3.9" fill="#fff" stroke="#ff4f12" stroke-width="1"/><circle cx="445.50" cy="750.50" r="3.9" fill="#fff" stroke="#ff4f12" stroke-width="1"/><circle cx="497.61" cy="757.38" r="3.9" fill="#fff" stroke="#ff4f12" stroke-width="1"/><circle cx="549.72" cy="778.00" r="3.9" fill="#fff" stroke="#ff4f12" stroke-width="1"/><circle cx="601.83" cy="826.12" r="3.9" fill="#fff" stroke="#ff4f12" stroke-width="1"/><circle cx="653.94" cy="881.12" r="3.9" fill="#fff" stroke="#ff4f12" stroke-width="1"/><circle cx="706.05" cy="922.38" r="3.9" fill="#fff" stroke="#ff4f12" stroke-width="1"/><polyline points="132.85,1004.88 184.96,998.00 237.07,970.50 289.18,929.25 341.29,888.00 393.40,853.62 445.50,826.12 497.61,839.88 549.72,860.50 601.83,901.75 653.94,949.88 706.05,977.38" fill="none" stroke="#3a9fdc" stroke-width="3.8" stroke-linejoin="round" stroke-linecap="round"/><circle cx="132.85" cy="1004.88" r="3.9" fill="#fff" stroke="#3a9fdc" stroke-width="1"/><circle cx="184.96" cy="998.00" r="3.9" fill="#fff" stroke="#3a9fdc" stroke-width="1"/><circle cx="237.07" cy="970.50" r="3.9" fill="#fff" stroke="#3a9fdc" stroke-width="1"/><circle cx="289.18" cy="929.25" r="3.9" fill="#fff" stroke="#3a9fdc" stroke-width="1"/><circle cx="341.29" cy="888.00" r="3.9" fill="#fff" stroke="#3a9fdc" stroke-width="1"/><circle cx="393.40" cy="853.62" r="3.9" fill="#fff" stroke="#3a9fdc" stroke-width="1"/><circle cx="445.50" cy="826.12" r="3.9" fill="#fff" stroke="#3a9fdc" stroke-width="1"/><circle cx="497.61" cy="839.88" r="3.9" fill="#fff" stroke="#3a9fdc" stroke-width="1"/><circle cx="549.72" cy="860.50" r="3.9" fill="#fff" stroke="#3a9fdc" stroke-width="1"/><circle cx="601.83" cy="901.75" r="3.9" fill="#fff" stroke="#3a9fdc" stroke-width="1"/><circle cx="653.94" cy="949.88" r="3.9" fill="#fff" stroke="#3a9fdc" stroke-width="1"/><circle cx="706.05" cy="977.38" r="3.9" fill="#fff" stroke="#3a9fdc" stroke-width="1"/><path d="M117,1080.8 H147.5" stroke="#ff4f12" stroke-width="4"/><circle cx="132.3" cy="1080.8" r="3.4" fill="#fff" stroke="#ff4f12" stroke-width="1"/><text x="157.60" y="1083.70" font-size="13" text-anchor="start" fill="#005c9e" font-weight="normal" textLength="221.5" lengthAdjust="spacing">Temperatura maksymalna (średnia)</text><path d="M408.5,1080.8 H439" stroke="#3a9fdc" stroke-width="4"/><circle cx="423.8" cy="1080.8" r="3.4" fill="#fff" stroke="#3a9fdc" stroke-width="1"/><text x="448.60" y="1083.70" font-size="13" text-anchor="start" fill="#005c9e" font-weight="normal" textLength="210.0" lengthAdjust="spacing">Temperatura minimalna (średnia)</text></svg>
<div class="t" style="left:785.04px;top:747.52px;font-size:19px;font-weight:bold;color:#005c9e;transform-origin:0 0;transform:scaleX(0.9662);">ŚREDNIA ROCZNA TEMPERATURA</div>
<div class="t" style="left:786.04px;top:795.77px;font-size:13.5px;color:#005c9e">•</div>
<div class="t" style="left:796.43px;top:792.12px;font-size:19px;font-weight:normal;letter-spacing:0.228px;color:#005c9e;">Średnia maksymalna roczna</div>
<div class="t" style="left:784.90px;top:815.77px;font-size:19px;font-weight:normal;letter-spacing:0.422px;color:#005c9e;">temperatura wynosi 16.4°C</div>
<div class="t" style="left:786.04px;top:866.82px;font-size:13.5px;color:#005c9e">•</div>
<div class="t" style="left:796.43px;top:863.17px;font-size:19px;font-weight:normal;letter-spacing:0.455px;color:#005c9e;">Średnia minimalna roczna temperatura</div>
<div class="t" style="left:785.36px;top:886.82px;font-size:19px;font-weight:normal;color:#005c9e;transform-origin:0 0;transform:scaleX(0.9806);">sięga 5.9°C</div>
<div class="t" style="left:786.04px;top:937.57px;font-size:13.5px;color:#005c9e">•</div>
<div class="t" style="left:796.57px;top:933.92px;font-size:19px;font-weight:normal;letter-spacing:0.516px;color:#005c9e;">Uśredniona dobowa temperatura dla</div>
<div class="t" style="left:785.15px;top:957.62px;font-size:19px;font-weight:normal;letter-spacing:0.328px;color:#005c9e;">całego roku kształtuje się na poziomie</div>
<div class="t" style="left:785.19px;top:981.32px;font-size:19px;font-weight:normal;letter-spacing:0.090px;color:#005c9e;">11.1°C</div>
<div class="t" style="left:463.26px;top:1135.54px;font-size:22.4px;font-weight:bold;color:#005c9e;transform-origin:0 0;transform:scaleX(0.9709);">TEMPERATURA DOBOWA</div>
<div class="abs" style="left:41.0px;top:1186.2px;width:1119.0px;height:109.59999999999991px;border-radius:6px;overflow:hidden;"><div class="abs" style="left:0.00px;top:0;width:93.67px;height:109.59999999999991px;background:#d9d9fc"></div><div class="abs" style="left:93.17px;top:0;width:93.67px;height:109.59999999999991px;background:#dfdfff"></div><div class="abs" style="left:186.34px;top:0;width:93.67px;height:109.59999999999991px;background:#f8f8ff"></div><div class="abs" style="left:279.51px;top:0;width:93.67px;height:109.59999999999991px;background:#fddbb9"></div><div class="abs" style="left:372.68px;top:0;width:93.67px;height:109.59999999999991px;background:#ffa95b"></div><div class="abs" style="left:465.85px;top:0;width:93.67px;height:109.59999999999991px;background:#ff9025"></div><div class="abs" style="left:559.02px;top:0;width:93.67px;height:109.59999999999991px;background:#ff7a00"></div><div class="abs" style="left:652.19px;top:0;width:93.67px;height:109.59999999999991px;background:#ff8207"></div><div class="abs" style="left:745.36px;top:0;width:93.67px;height:109.59999999999991px;background:#ff952c"></div><div class="abs" style="left:838.53px;top:0;width:93.67px;height:109.59999999999991px;background:#ffc083"></div><div class="abs" style="left:931.70px;top:0;width:93.67px;height:109.59999999999991px;background:#fff3e6"></div><div class="abs" style="left:1024.87px;top:0;width:94.13px;height:109.59999999999991px;background:#ebebff"></div><div class="abs" style="left:0;top:38.3px;width:1119.0px;height:1px;background:#fff"></div></div>
<div class="t" style="left:71.39px;top:1197.39px;font-size:17.5px;font-weight:bold;color:rgba(40,30,40,0.55);transform-origin:0 0;transform:scaleX(0.8990);">STY</div>
<div class="t" style="left:68.30px;top:1247.74px;font-size:27px;font-weight:bold;letter-spacing:0.521px;color:rgba(40,30,40,0.55);">-3°</div>
<div class="t" style="left:163.47px;top:1197.39px;font-size:17.5px;font-weight:bold;color:rgba(40,30,40,0.55);transform-origin:0 0;transform:scaleX(0.9540);">LUT</div>
<div class="t" style="left:161.47px;top:1247.74px;font-size:27px;font-weight:bold;letter-spacing:0.521px;color:rgba(40,30,40,0.55);">-1°</div>
<div class="t" style="left:253.06px;top:1197.39px;font-size:17.5px;font-weight:bold;letter-spacing:0.115px;color:rgba(40,30,40,0.55);">MAR</div>
<div class="t" style="left:259.65px;top:1247.74px;font-size:27px;font-weight:bold;letter-spacing:0.686px;color:rgba(40,30,40,0.55);">3°</div>
<div class="t" style="left:349.15px;top:1197.39px;font-size:17.5px;font-weight:bold;color:rgba(40,30,40,0.55);transform-origin:0 0;transform:scaleX(0.9846);">KWI</div>
<div class="t" style="left:352.34px;top:1247.74px;font-size:27px;font-weight:bold;letter-spacing:1.160px;color:rgba(40,30,40,0.55);">9°</div>
<div class="t" style="left:441.18px;top:1197.39px;font-size:17.5px;font-weight:bold;color:rgba(40,30,40,0.55);transform-origin:0 0;transform:scaleX(0.9686);">MAJ</div>
<div class="t" style="left:437.77px;top:1247.74px;font-size:27px;font-weight:bold;letter-spacing:0.798px;color:rgba(40,30,40,0.55);">16°</div>
<div class="t" style="left:537.09px;top:1197.39px;font-size:17.5px;font-weight:bold;color:rgba(40,30,40,0.55);transform-origin:0 0;transform:scaleX(0.8642);">CZE</div>
<div class="t" style="left:531.13px;top:1247.74px;font-size:27px;font-weight:bold;letter-spacing:0.699px;color:rgba(40,30,40,0.55);">21°</div>
<div class="t" style="left:632.52px;top:1197.39px;font-size:17.5px;font-weight:bold;color:rgba(40,30,40,0.55);transform-origin:0 0;transform:scaleX(0.9550);">LIP</div>
<div class="t" style="left:624.30px;top:1247.74px;font-size:27px;font-weight:bold;letter-spacing:0.699px;color:rgba(40,30,40,0.55);">25°</div>
<div class="t" style="left:726.33px;top:1197.39px;font-size:17.5px;font-weight:bold;color:rgba(40,30,40,0.55);transform-origin:0 0;transform:scaleX(0.8659);">SIE</div>
<div class="t" style="left:717.47px;top:1247.74px;font-size:27px;font-weight:bold;letter-spacing:0.699px;color:rgba(40,30,40,0.55);">23°</div>
<div class="t" style="left:812.43px;top:1197.39px;font-size:17.5px;font-weight:bold;color:rgba(40,30,40,0.55);transform-origin:0 0;transform:scaleX(0.9711);">WRZ</div>
<div class="t" style="left:810.64px;top:1247.74px;font-size:27px;font-weight:bold;letter-spacing:0.699px;color:rgba(40,30,40,0.55);">20°</div>
<div class="t" style="left:909.22px;top:1197.39px;font-size:17.5px;font-weight:bold;color:rgba(40,30,40,0.55);transform-origin:0 0;transform:scaleX(0.9472);">PAŹ</div>
<div class="t" style="left:903.62px;top:1247.74px;font-size:27px;font-weight:bold;letter-spacing:0.798px;color:rgba(40,30,40,0.55);">13°</div>
<div class="t" style="left:1005.93px;top:1197.39px;font-size:17.5px;font-weight:bold;color:rgba(40,30,40,0.55);transform-origin:0 0;transform:scaleX(0.9087);">LIS</div>
<div class="t" style="left:1004.56px;top:1247.74px;font-size:27px;font-weight:bold;letter-spacing:1.134px;color:rgba(40,30,40,0.55);">6°</div>
<div class="t" style="left:1092.87px;top:1197.39px;font-size:17.5px;font-weight:bold;color:rgba(40,30,40,0.55);transform-origin:0 0;transform:scaleX(0.9420);">GRU</div>
<div class="t" style="left:1097.66px;top:1247.74px;font-size:27px;font-weight:bold;letter-spacing:1.200px;color:rgba(40,30,40,0.55);">1°</div>
<svg width="1200" height="1900" viewBox="0 0 1200 1900"><path d="M115.3,1509.40 H730.8" stroke="#b7d3e8" stroke-width="1.2"/><path d="M115.3,1543.78 H730.8" stroke="#b7d3e8" stroke-width="1.2"/><path d="M115.3,1578.15 H730.8" stroke="#b7d3e8" stroke-width="1.2"/><path d="M115.3,1612.53 H730.8" stroke="#b7d3e8" stroke-width="1.2"/><path d="M115.3,1646.90 H730.8" stroke="#b7d3e8" stroke-width="1.2"/><path d="M115.3,1681.28 H730.8" stroke="#b7d3e8" stroke-width="1.2"/><path d="M115.3,1715.65 H730.8" stroke="#b7d3e8" stroke-width="1.2"/><path d="M115.3,1750.03 H730.8" stroke="#b7d3e8" stroke-width="1.2"/><path d="M115.3,1784.40 H730.8" stroke="#b7d3e8" stroke-width="1.2"/><path d="M166.59,1509.4 V1784.4" stroke="#b7d3e8" stroke-width="1.2"/><path d="M217.88,1509.4 V1784.4" stroke="#b7d3e8" stroke-width="1.2"/><path d="M269.18,1509.4 V1784.4" stroke="#b7d3e8" stroke-width="1.2"/><path d="M320.47,1509.4 V1784.4" stroke="#b7d3e8" stroke-width="1.2"/><path d="M371.76,1509.4 V1784.4" stroke="#b7d3e8" stroke-width="1.2"/><path d="M423.05,1509.4 V1784.4" stroke="#b7d3e8" stroke-width="1.2"/><path d="M474.34,1509.4 V1784.4" stroke="#b7d3e8" stroke-width="1.2"/><path d="M525.63,1509.4 V1784.4" stroke="#b7d3e8" stroke-width="1.2"/><path d="M576.92,1509.4 V1784.4" stroke="#b7d3e8" stroke-width="1.2"/><path d="M628.22,1509.4 V1784.4" stroke="#b7d3e8" stroke-width="1.2"/><path d="M679.51,1509.4 V1784.4" stroke="#b7d3e8" stroke-width="1.2"/><path d="M730.80,1509.4 V1784.4" stroke="#b7d3e8" stroke-width="1.2"/><path d="M109.8,1509.40 H115.3" stroke="#005c9e" stroke-width="1.2"/><text x="104.60" y="1513.40" font-size="11" text-anchor="end" fill="#005c9e" font-weight="normal" textLength="43.7" lengthAdjust="spacing">160 mm</text><path d="M109.8,1543.78 H115.3" stroke="#005c9e" stroke-width="1.2"/><text x="104.60" y="1547.78" font-size="11" text-anchor="end" fill="#005c9e" font-weight="normal" textLength="43.7" lengthAdjust="spacing">140 mm</text><path d="M109.8,1578.15 H115.3" stroke="#005c9e" stroke-width="1.2"/><text x="104.60" y="1582.15" font-size="11" text-anchor="end" fill="#005c9e" font-weight="normal" textLength="43.7" lengthAdjust="spacing">120 mm</text><path d="M109.8,1612.53 H115.3" stroke="#005c9e" stroke-width="1.2"/><text x="104.60" y="1616.53" font-size="11" text-anchor="end" fill="#005c9e" font-weight="normal" textLength="43.7" lengthAdjust="spacing">100 mm</text><path d="M109.8,1646.90 H115.3" stroke="#005c9e" stroke-width="1.2"/><text x="104.60" y="1650.90" font-size="11" text-anchor="end" fill="#005c9e" font-weight="normal" textLength="37.4" lengthAdjust="spacing">80 mm</text><path d="M109.8,1681.28 H115.3" stroke="#005c9e" stroke-width="1.2"/><text x="104.60" y="1685.28" font-size="11" text-anchor="end" fill="#005c9e" font-weight="normal" textLength="37.4" lengthAdjust="spacing">60 mm</text><path d="M109.8,1715.65 H115.3" stroke="#005c9e" stroke-width="1.2"/><text x="104.60" y="1719.65" font-size="11" text-anchor="end" fill="#005c9e" font-weight="normal" textLength="37.4" lengthAdjust="spacing">40 mm</text><path d="M109.8,1750.03 H115.3" stroke="#005c9e" stroke-width="1.2"/><text x="104.60" y="1754.03" font-size="11" text-anchor="end" fill="#005c9e" font-weight="normal" textLength="37.4" lengthAdjust="spacing">20 mm</text><path d="M109.8,1784.40 H115.3" stroke="#005c9e" stroke-width="1.2"/><text x="104.60" y="1788.40" font-size="11" text-anchor="end" fill="#005c9e" font-weight="normal" textLength="31.1" lengthAdjust="spacing">0 mm</text><rect x="130.75" y="1607.37" width="22" height="177.03" fill="#005c9e"/><rect x="182.04" y="1590.18" width="22" height="194.22" fill="#005c9e"/><rect x="233.33" y="1553.23" width="22" height="231.17" fill="#005c9e"/><rect x="284.62" y="1565.26" width="22" height="219.14" fill="#005c9e"/><rect x="335.91" y="1542.06" width="22" height="242.34" fill="#005c9e"/><rect x="387.20" y="1565.26" width="22" height="219.14" fill="#005c9e"/><rect x="438.50" y="1572.99" width="22" height="211.41" fill="#005c9e"/><rect x="489.79" y="1576.43" width="22" height="207.97" fill="#005c9e"/><rect x="541.08" y="1604.79" width="22" height="179.61" fill="#005c9e"/><rect x="592.37" y="1536.04" width="22" height="248.36" fill="#005c9e"/><rect x="643.66" y="1595.34" width="22" height="189.06" fill="#005c9e"/><rect x="694.95" y="1557.53" width="22" height="226.88" fill="#005c9e"/><path d="M115.3,1508.9 V1784.4" stroke="#005c9e" stroke-width="1.2" fill="none"/><path d="M109.8,1784.4 H730.8" stroke="#005c9e" stroke-width="1.4" fill="none"/><text x="139.45" y="1805.20" font-size="13" text-anchor="middle" fill="#005c9e" font-weight="normal">Sty</text><text x="190.74" y="1805.20" font-size="13" text-anchor="middle" fill="#005c9e" font-weight="normal">Lut</text><text x="242.03" y="1805.20" font-size="13" text-anchor="middle" fill="#005c9e" font-weight="normal">Mar</text><text x="293.32" y="1805.20" font-size="13" text-anchor="middle" fill="#005c9e" font-weight="normal">Kwi</text><text x="344.61" y="1805.20" font-size="13" text-anchor="middle" fill="#005c9e" font-weight="normal">Maj</text><text x="395.90" y="1805.20" font-size="13" text-anchor="middle" fill="#005c9e" font-weight="normal">Cze</text><text x="447.20" y="1805.20" font-size="13" text-anchor="middle" fill="#005c9e" font-weight="normal">Lip</text><text x="498.49" y="1805.20" font-size="13" text-anchor="middle" fill="#005c9e" font-weight="normal">Sie</text><text x="549.78" y="1805.20" font-size="13" text-anchor="middle" fill="#005c9e" font-weight="normal">Wrz</text><text x="601.07" y="1805.20" font-size="13" text-anchor="middle" fill="#005c9e" font-weight="normal">Paź</text><text x="652.36" y="1805.20" font-size="13" text-anchor="middle" fill="#005c9e" font-weight="normal">Lis</text><text x="703.65" y="1805.20" font-size="13" text-anchor="middle" fill="#005c9e" font-weight="normal">Gru</text><text transform="translate(49.6,1646.8) rotate(-90)" font-size="13" text-anchor="middle" fill="#005c9e" textLength="41" lengthAdjust="spacing">Opady</text><rect x="335.3" y="1835" width="8" height="8" fill="#005c9e"/><text x="351.60" y="1842.30" font-size="13" text-anchor="start" fill="#005c9e" font-weight="normal" textLength="88.5" lengthAdjust="spacing">Suma opadów</text></svg>
<div class="t" style="left:785.02px;top:1506.52px;font-size:19px;font-weight:normal;letter-spacing:0.320px;color:#005c9e;">Średnia roczna suma opadów w</div>
<div class="t" style="left:785.26px;top:1530.19px;font-size:19px;font-weight:normal;letter-spacing:0.326px;color:#005c9e;">miejscowości Boonton to około 1481</div>
<div class="t" style="left:785.26px;top:1553.86px;font-size:19px;font-weight:normal;letter-spacing:0.266px;color:#005c9e;">mm. Różnica pomiędzy najwyższymi</div>
<div class="t" style="left:785.16px;top:1577.53px;font-size:19px;font-weight:normal;letter-spacing:0.321px;color:#005c9e;">opadami (październik) i najniższymi</div>
<div class="t" style="left:784.48px;top:1601.20px;font-size:19px;font-weight:normal;letter-spacing:0.260px;color:#005c9e;">(styczeń) wynosi 41 mm.</div>
<div class="t" style="left:785.20px;top:1648.54px;font-size:19px;font-weight:normal;letter-spacing:0.341px;color:#005c9e;">Najwięcej opadów pojawia się w</div>
<div class="t" style="left:785.30px;top:1672.21px;font-size:19px;font-weight:normal;letter-spacing:0.283px;color:#005c9e;">październiku, w tym okresie miesięczna</div>
<div class="t" style="left:785.35px;top:1695.88px;font-size:19px;font-weight:normal;letter-spacing:0.325px;color:#005c9e;">suma opadów oscyluje wokół 144 mm, a</div>
<div class="t" style="left:785.30px;top:1719.55px;font-size:19px;font-weight:normal;letter-spacing:0.526px;color:#005c9e;">prawdopodobieństwo ich wystąpienia</div>
<div class="t" style="left:785.14px;top:1743.22px;font-size:19px;font-weight:normal;letter-spacing:0.417px;color:#005c9e;">wynosi około 32%. Natomiast najmniej</div>
<div class="t" style="left:785.16px;top:1766.89px;font-size:19px;font-weight:normal;letter-spacing:0.370px;color:#005c9e;">opadów notuje się w styczniu - średnio</div>
<div class="t" style="left:785.19px;top:1790.56px;font-size:19px;font-weight:normal;letter-spacing:0.224px;color:#005c9e;">103 mm, a szanse na wystąpienie</div>
<div class="t" style="left:785.16px;top:1814.23px;font-size:19px;font-weight:normal;letter-spacing:0.233px;color:#005c9e;">opadów wynoszą 28%.</div>
<div class="t" style="left:784.68px;top:1892.42px;font-size:19px;font-weight:bold;color:#005c9e;transform-origin:0 0;transform:scaleX(0.9648);">ROCZNE OPADY WEDŁUG TYPU</div>
<div class="t" style="left:786.04px;top:1929.07px;font-size:13.5px;color:#005c9e">•</div>
<div class="t" style="left:796.67px;top:1925.42px;font-size:19px;font-weight:normal;color:#005c9e;transform-origin:0 0;transform:scaleX(0.9607);">Deszcz: 89%</div>
<div class="t" style="left:786.04px;top:1958.07px;font-size:13.5px;color:#005c9e">•</div>
<div class="t" style="left:796.44px;top:1954.42px;font-size:19px;font-weight:normal;color:#005c9e;transform-origin:0 0;transform:scaleX(0.9856);">Śnieg: 11%</div>
<div class="abs" style="left:37.2px;top:1870px;width:702.8px;height:150.5999999999999px;border-radius:7px;overflow:hidden;background:#b0dcff"><div class="abs" style="left:0;top:0;width:702.8px;height:30.59999999999991px;background:#2d9cdb"></div></div>
<div class="t" style="left:318.54px;top:1879.23px;font-size:16.5px;font-weight:bold;color:#fff;transform-origin:0 0;transform:scaleX(0.9598);">SZANSA OPADÓW</div>
<svg width="1200" height="2040" viewBox="0 0 1200 2040"><path d="M66.80,1915.3 C70.80,1922 91.80,1949 91.80,1965.6 A25,25 0 0 1 41.80,1965.6 C41.80,1949 62.80,1922 66.80,1915.3 Z" fill="#005c9e"/><path d="M125.27,1915.3 C129.27,1922 150.27,1949 150.27,1965.6 A25,25 0 0 1 100.27,1965.6 C100.27,1949 121.27,1922 125.27,1915.3 Z" fill="#005c9e"/><path d="M183.74,1915.3 C187.74,1922 208.74,1949 208.74,1965.6 A25,25 0 0 1 158.74,1965.6 C158.74,1949 179.74,1922 183.74,1915.3 Z" fill="#005c9e"/><path d="M242.21,1915.3 C246.21,1922 267.21,1949 267.21,1965.6 A25,25 0 0 1 217.21,1965.6 C217.21,1949 238.21,1922 242.21,1915.3 Z" fill="#005c9e"/><path d="M300.68,1915.3 C304.68,1922 325.68,1949 325.68,1965.6 A25,25 0 0 1 275.68,1965.6 C275.68,1949 296.68,1922 300.68,1915.3 Z" fill="#005c9e"/><path d="M359.15,1915.3 C363.15,1922 384.15,1949 384.15,1965.6 A25,25 0 0 1 334.15,1965.6 C334.15,1949 355.15,1922 359.15,1915.3 Z" fill="#005c9e"/><path d="M417.62,1915.3 C421.62,1922 442.62,1949 442.62,1965.6 A25,25 0 0 1 392.62,1965.6 C392.62,1949 413.62,1922 417.62,1915.3 Z" fill="#005c9e"/><path d="M476.09,1915.3 C480.09,1922 501.09,1949 501.09,1965.6 A25,25 0 0 1 451.09,1965.6 C451.09,1949 472.09,1922 476.09,1915.3 Z" fill="#005c9e"/><path d="M534.56,1915.3 C538.56,1922 559.56,1949 559.56,1965.6 A25,25 0 0 1 509.56,1965.6 C509.56,1949 530.56,1922 534.56,1915.3 Z" fill="#005c9e"/><path d="M593.03,1915.3 C597.03,1922 618.03,1949 618.03,1965.6 A25,25 0 0 1 568.03,1965.6 C568.03,1949 589.03,1922 593.03,1915.3 Z" fill="#005c9e"/><path d="M651.50,1915.3 C655.50,1922 676.50,1949 676.50,1965.6 A25,25 0 0 1 626.50,1965.6 C626.50,1949 647.50,1922 651.50,1915.3 Z" fill="#005c9e"/><path d="M709.97,1915.3 C713.97,1922 734.97,1949 734.97,1965.6 A25,25 0 0 1 684.97,1965.6 C684.97,1949 705.97,1922 709.97,1915.3 Z" fill="#005c9e"/></svg>
<div class="t" style="left:47.88px;top:1957.76px;font-size:18px;font-weight:bold;letter-spacing:0.299px;color:#fff;">28%</div>
<div class="t" style="left:55.02px;top:1998.64px;font-size:12px;font-weight:bold;color:#005c9e;transform-origin:0 0;transform:scaleX(0.8990);">STY</div>
<div class="t" style="left:106.56px;top:1957.76px;font-size:18px;font-weight:bold;letter-spacing:0.193px;color:#fff;">33%</div>
<div class="t" style="left:112.74px;top:1998.64px;font-size:12px;font-weight:bold;color:#005c9e;transform-origin:0 0;transform:scaleX(0.9540);">LUT</div>
<div class="t" style="left:165.03px;top:1957.76px;font-size:18px;font-weight:bold;letter-spacing:0.193px;color:#fff;">35%</div>
<div class="t" style="left:168.76px;top:1998.64px;font-size:12px;font-weight:bold;letter-spacing:0.079px;color:#005c9e;">MAR</div>
<div class="t" style="left:223.50px;top:1957.76px;font-size:18px;font-weight:bold;letter-spacing:0.193px;color:#fff;">38%</div>
<div class="t" style="left:229.23px;top:1998.64px;font-size:12px;font-weight:bold;color:#005c9e;transform-origin:0 0;transform:scaleX(0.9846);">KWI</div>
<div class="t" style="left:281.73px;top:1957.76px;font-size:18px;font-weight:bold;letter-spacing:0.312px;color:#fff;">40%</div>
<div class="t" style="left:286.92px;top:1998.64px;font-size:12px;font-weight:bold;color:#005c9e;transform-origin:0 0;transform:scaleX(0.9686);">MAJ</div>
<div class="t" style="left:340.44px;top:1957.76px;font-size:18px;font-weight:bold;letter-spacing:0.193px;color:#fff;">37%</div>
<div class="t" style="left:347.26px;top:1998.64px;font-size:12px;font-weight:bold;color:#005c9e;transform-origin:0 0;transform:scaleX(0.8642);">CZE</div>
<div class="t" style="left:398.91px;top:1957.76px;font-size:18px;font-weight:bold;letter-spacing:0.193px;color:#fff;">35%</div>
<div class="t" style="left:407.29px;top:1998.64px;font-size:12px;font-weight:bold;color:#005c9e;transform-origin:0 0;transform:scaleX(0.9550);">LIP</div>
<div class="t" style="left:457.38px;top:1957.76px;font-size:18px;font-weight:bold;letter-spacing:0.193px;color:#fff;">33%</div>
<div class="t" style="left:466.19px;top:1998.64px;font-size:12px;font-weight:bold;color:#005c9e;transform-origin:0 0;transform:scaleX(0.8659);">SIE</div>
<div class="t" style="left:515.64px;top:1957.76px;font-size:18px;font-weight:bold;letter-spacing:0.299px;color:#fff;">27%</div>
<div class="t" style="left:519.81px;top:1998.64px;font-size:12px;font-weight:bold;color:#005c9e;transform-origin:0 0;transform:scaleX(0.9711);">WRZ</div>
<div class="t" style="left:574.32px;top:1957.76px;font-size:18px;font-weight:bold;letter-spacing:0.193px;color:#fff;">32%</div>
<div class="t" style="left:580.76px;top:1998.64px;font-size:12px;font-weight:bold;color:#005c9e;transform-origin:0 0;transform:scaleX(0.9472);">PAŹ</div>
<div class="t" style="left:632.58px;top:1957.76px;font-size:18px;font-weight:bold;letter-spacing:0.299px;color:#fff;">26%</div>
<div class="t" style="left:641.67px;top:1998.64px;font-size:12px;font-weight:bold;color:#005c9e;transform-origin:0 0;transform:scaleX(0.9087);">LIS</div>
<div class="t" style="left:691.26px;top:1957.76px;font-size:18px;font-weight:bold;letter-spacing:0.193px;color:#fff;">32%</div>
<div class="t" style="left:695.86px;top:1998.64px;font-size:12px;font-weight:bold;color:#005c9e;transform-origin:0 0;transform:scaleX(0.9420);">GRU</div>
<svg width="1200" height="2140" viewBox="0 0 1200 2140"><circle cx="58.3" cy="2111.2" r="17" fill="none" stroke="#aadcff" stroke-width="2.9"/><circle cx="106.5" cy="2111.2" r="17" fill="none" stroke="#aadcff" stroke-width="2.9"/><circle cx="155" cy="2111.2" r="17" fill="none" stroke="#aadcff" stroke-width="2.9"/><circle cx="106.5" cy="2102" r="2.7" fill="#aadcff"/><path d="M101.4,2106.3 H111.6 V2115.2 H109.9 V2123 H103.1 V2115.2 H101.4 Z" fill="#aadcff"/><rect x="148" y="2107.4" width="14" height="3" fill="#aadcff"/><rect x="148" y="2113.3" width="14" height="3" fill="#aadcff"/></svg>
<div class="t" style="left:46.58px;top:2104.10px;font-size:15px;font-weight:bold;letter-spacing:1.560px;color:#aadcff;-webkit-text-stroke:0.5px #aadcff;">CC</div>
<div class="t" style="left:185.16px;top:2104.19px;font-size:15.6px;font-weight:bold;letter-spacing:1.151px;color:#aadcff;-webkit-text-stroke:0.35px #aadcff;">CC BY-ND 4.0</div>
<div class="t" style="left:982.19px;top:2101.27px;font-size:22.6px;font-weight:bold;color:#fff;transform-origin:0 0;transform:scaleX(0.9296);">METEOATLAS.PL</div>
</body></html>
